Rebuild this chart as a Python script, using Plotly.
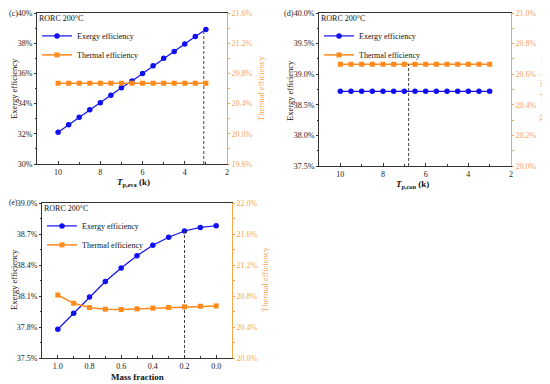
import plotly.graph_objects as go

# ---------------- data ----------------
c_x = [10, 9.5, 9, 8.5, 8, 7.5, 7, 6.5, 6, 5.5, 5, 4.5, 4, 3.5, 3]
c_exergy = [32.1, 32.6, 33.1, 33.6, 34.05, 34.55, 35.05, 35.5, 36.0, 36.5, 37.0, 37.45, 37.95, 38.45, 38.9]
c_thermal = [20.67, 20.67, 20.67, 20.67, 20.67, 20.67, 20.67, 20.67, 20.67, 20.67, 20.67, 20.67, 20.67, 20.67, 20.67]
c_mark_x = 3.1
c_mark_y = 38.9

d_x = [10, 9.5, 9, 8.5, 8, 7.5, 7, 6.5, 6, 5.5, 5, 4.5, 4, 3.5, 3]
d_exergy = [38.72, 38.72, 38.72, 38.72, 38.72, 38.72, 38.72, 38.72, 38.72, 38.72, 38.72, 38.72, 38.72, 38.72, 38.72]
d_thermal = [20.665, 20.665, 20.665, 20.665, 20.665, 20.665, 20.665, 20.665, 20.665, 20.665, 20.665, 20.665, 20.665, 20.665, 20.665]
d_mark_x = 6.8
d_mark_y = 20.665

e_x = [1.0, 0.9, 0.8, 0.7, 0.6, 0.5, 0.4, 0.3, 0.2, 0.1, 0.0]
e_exergy = [37.778, 37.934, 38.09, 38.24, 38.371, 38.489, 38.591, 38.668, 38.729, 38.764, 38.78]
e_thermal = [20.813, 20.706, 20.651, 20.630, 20.626, 20.634, 20.643, 20.651, 20.660, 20.668, 20.672]
e_mark_x = 0.2
e_mark_y = 38.729

legend_title = "RORC 200°C"
name_ex = "Exergy efficiency"
name_th = "Thermal efficiency"
title_left = "Exergy efficiency"
title_right = "Thermal efficiency"
xtitle_c = "<b><i>T</i><sub>p,eva</sub> (k)</b>"
xtitle_d = "<b><i>T</i><sub>p,con</sub> (k)</b>"
xtitle_e = "<b>Mass fraction</b>"

# ---------------- style ----------------
# the page body has an 8px margin, so the figure is 8px smaller and
# positions below are given in window pixels, shifted by that margin
OFF = 8
W, H = 550 - OFF, 384 - OFF
FONT = "Liberation Serif, Times New Roman, serif"
BLUE = "#1010F0"
ORANGE = "#FF8A1C"
AX_OR = "#F7A650"
AXC = "#333333"
FS = 8


def fx(a):
    return (a - OFF) / W


def fy(b):
    return 1 - (b - OFF) / H


def px_x(a, b):
    return [fx(a), fx(b)]


def px_y(top, bottom):
    return [fy(bottom), fy(top)]


fig = go.Figure()


def add_panel(xa, ya_l, ya_r, xs, ex, th, legend, mark_x, mark_y, mark_axis, ybase):
    fig.add_trace(go.Scatter(x=xs, y=ex, name=name_ex, mode="lines+markers",
                             line=dict(color=BLUE, width=1.2),
                             marker=dict(symbol="circle", size=5.5, color=BLUE),
                             xaxis=xa, yaxis=ya_l, legend=legend))
    fig.add_trace(go.Scatter(x=xs, y=th, name=name_th, mode="lines+markers",
                             line=dict(color=ORANGE, width=1.5),
                             marker=dict(symbol="square", size=5, color=ORANGE),
                             xaxis=xa, yaxis=ya_r, legend=legend))
    fig.add_trace(go.Scatter(x=[mark_x, mark_x], y=[ybase, mark_y], mode="lines",
                             line=dict(color="#444444", width=1, dash="3px,2px"),
                             showlegend=False, hoverinfo="skip",
                             xaxis=xa, yaxis=(ya_l if mark_axis == "l" else ya_r)))


add_panel("x", "y", "y2", c_x, c_exergy, c_thermal, "legend", c_mark_x, c_mark_y, "l", 30)
add_panel("x2", "y3", "y4", d_x, d_exergy, d_thermal, "legend2", d_mark_x, d_mark_y, "r", 20.0)
add_panel("x3", "y5", "y6", e_x, e_exergy, e_thermal, "legend3", e_mark_x, e_mark_y, "l", 37.5)


def xax(domain, anchor, rng, dtick, fmt):
    return dict(domain=domain, anchor=anchor, range=rng, dtick=dtick, tickformat=fmt,
                showline=True, linecolor=AXC, linewidth=1, mirror=True,
                ticks="inside", ticklen=3, tickcolor=AXC,
                minor=dict(ticks="inside", ticklen=2, tickcolor=AXC, dtick=dtick / 2),
                showgrid=False, zeroline=False, automargin=False,
                tickfont=dict(family=FONT, size=FS, color="#222"))


def yl(domain, anchor, rng, dtick, fmt):
    return dict(domain=domain, anchor=anchor, range=rng, dtick=dtick, tick0=rng[0],
                tickformat=fmt, ticksuffix="%",
                showline=True, linecolor=AXC, linewidth=1,
                ticks="outside", ticklen=2, tickcolor=AXC,
                minor=dict(ticks="outside", ticklen=1.5, tickcolor=AXC, dtick=dtick / 2),
                showgrid=False, zeroline=False, automargin=False,
                tickfont=dict(family=FONT, size=FS, color="#222"))


def yr(overlay, anchor, rng, dtick, fmt):
    return dict(overlaying=overlay, anchor=anchor, side="right", range=rng, dtick=dtick, tick0=rng[0],
                tickformat=fmt, ticksuffix="%",
                showline=True, linecolor=AX_OR, linewidth=1,
                ticks="outside", ticklen=2, tickcolor=AX_OR,
                minor=dict(ticks="outside", ticklen=1.5, tickcolor=AX_OR, dtick=dtick / 2),
                showgrid=False, zeroline=False, automargin=False,
                tickfont=dict(family=FONT, size=FS, color=AX_OR))


dc_x, dc_y = px_x(37, 227), px_y(13, 164)
dd_x, dd_y = px_x(319, 511), px_y(13, 166)
de_x, de_y = px_x(42, 232), px_y(203, 358)

fig.update_layout(
    width=W, height=H,
    margin=dict(l=0, r=0, t=0, b=0),
    paper_bgcolor="white", plot_bgcolor="white",
    font=dict(family=FONT, size=FS, color="#222"),
    xaxis=xax(dc_x, "y", [11, 2], 2, "d"),
    yaxis=yl(dc_y, "x", [30, 40], 2, ".0f"),
    yaxis2=yr("y", "x", [19.6, 21.6], 0.4, ".1f"),
    xaxis2=xax(dd_x, "y3", [11, 2], 2, "d"),
    yaxis3=yl(dd_y, "x2", [37.5, 40.0], 0.5, ".1f"),
    yaxis4=yr("y3", "x2", [20.0, 21.0], 0.2, ".1f"),
    xaxis3=xax(de_x, "y5", [1.1, -0.1], 0.2, ".1f"),
    yaxis5=yl(de_y, "x3", [37.5, 39.0], 0.3, ".1f"),
    yaxis6=yr("y5", "x3", [20.0, 22.0], 0.4, ".1f"),
)


def leg(xpx, ypx):
    return dict(x=fx(xpx), y=fy(ypx), xanchor="left", yanchor="top",
                bgcolor="rgba(0,0,0,0)", borderwidth=0, itemwidth=30,
                tracegroupgap=0, font=dict(family=FONT, size=FS, color="#111"),
                title=dict(text=legend_title, font=dict(family=FONT, size=FS, color="#111")))


fig.update_layout(legend=leg(37, 11), legend2=leg(319, 11), legend3=leg(42, 201))


def ann(txt, xp, yp, color="#222", angle=0, size=FS, xanchor="center"):
    fig.add_annotation(text=txt, x=fx(xp), y=fy(yp), xref="paper", yref="paper",
                       xanchor=xanchor, yanchor="middle", showarrow=False, textangle=angle,
                       borderpad=0,
                       font=dict(family=FONT, size=size, color=color))


# panel labels
ann("(c)", 8, 13, xanchor="left")
ann("(d)", 283, 13, xanchor="left")
ann("(e)", 8, 203, xanchor="left", size=7.5)

# axis titles
ann(xtitle_c, 133, 182, color="#111", size=9)
ann(xtitle_d, 412, 184, color="#111", size=9)
ann(xtitle_e, 137, 377, color="#111", size=9)
ann(title_left, 14, 89, color="#111", angle=-90, size=8.5)
ann(title_left, 290, 90, color="#111", angle=-90, size=8.5)
ann(title_left, 14, 280, color="#111", angle=-90, size=8.5)
ann(title_right, 261, 89, color=AX_OR, angle=-90, size=8.5)
ann(title_right, 543, 90, color=AX_OR, angle=-90, size=8.5)
ann(title_right, 265, 280, color=AX_OR, angle=-90, size=8.5)

fig.write_html("out.html")
